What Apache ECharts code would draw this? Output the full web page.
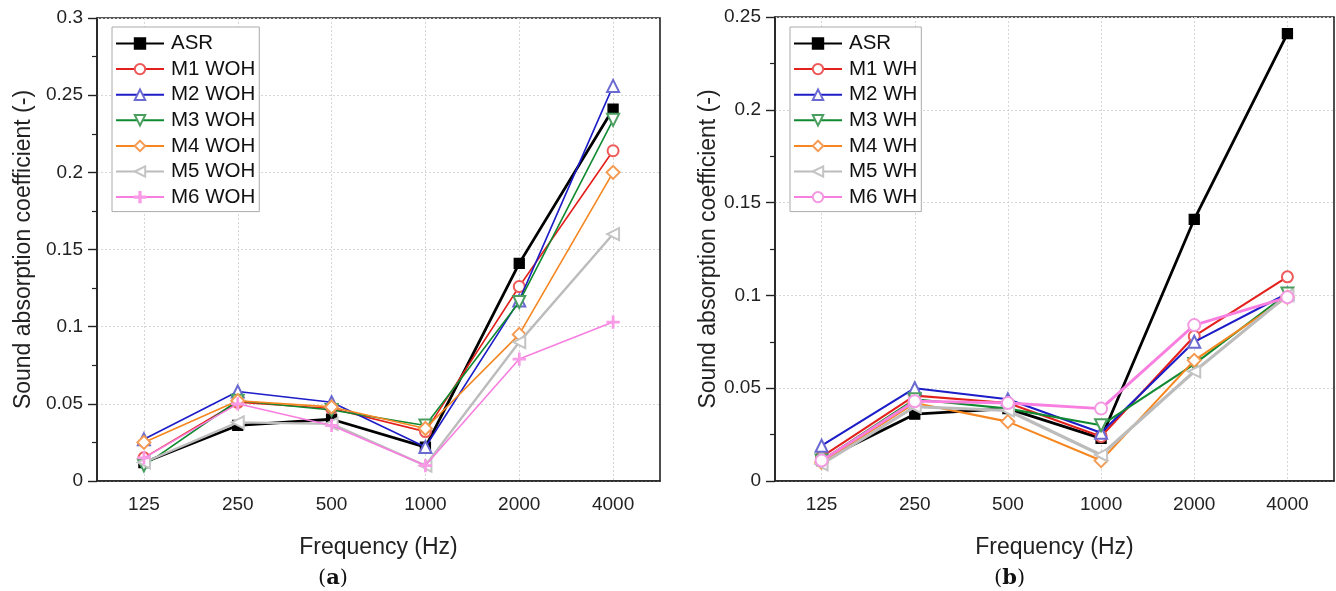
<!DOCTYPE html>
<html>
<head>
<meta charset="utf-8">
<script src="https://cdn.jsdelivr.net/npm/echarts@6/dist/echarts.min.js"></script>
<style>html,body{margin:0;padding:0;background:#fff}#c{width:1336px;height:591px}</style>
</head>
<body>
<div id="c"></div>
<script>
var categories = ['125', '250', '500', '1000', '2000', '4000'];

// (a) without hemp
var asrA = [0.012, 0.036, 0.040, 0.022, 0.141, 0.241];
var m1A  = [0.015, 0.051, 0.047, 0.032, 0.126, 0.214];
var m2A  = [0.027, 0.058, 0.051, 0.022, 0.117, 0.256];
var m3A  = [0.010, 0.052, 0.046, 0.036, 0.116, 0.234];
var m4A  = [0.025, 0.052, 0.048, 0.034, 0.095, 0.200];
var m5A  = [0.012, 0.038, 0.037, 0.010, 0.090, 0.160];
var m6A  = [0.015, 0.050, 0.036, 0.010, 0.079, 0.103];

// (b) with hemp
var asrB = [0.011, 0.036, 0.039, 0.023, 0.141, 0.241];
var m1B  = [0.013, 0.046, 0.042, 0.024, 0.078, 0.110];
var m2B  = [0.019, 0.050, 0.044, 0.026, 0.075, 0.101];
var m3B  = [0.011, 0.044, 0.039, 0.030, 0.063, 0.101];
var m4B  = [0.010, 0.042, 0.032, 0.011, 0.065, 0.099];
var m5B  = [0.009, 0.040, 0.038, 0.014, 0.059, 0.100];
var m6B  = [0.011, 0.043, 0.042, 0.039, 0.084, 0.099];

var namesA = ['ASR', 'M1 WOH', 'M2 WOH', 'M3 WOH', 'M4 WOH', 'M5 WOH', 'M6 WOH'];
var namesB = ['ASR', 'M1 WH', 'M2 WH', 'M3 WH', 'M4 WH', 'M5 WH', 'M6 WH'];
var yTicksA = [0, 0.3, 0.05];
var yTicksB = [0, 0.25, 0.05];

var FONT = 'Liberation Sans, Arial, sans-serif';
var PLUS = 'path://M4.4,0 H5.6 V4.4 H10 V5.6 H5.6 V10 H4.4 V5.6 H0 V4.4 H4.4 Z';

var styles = [
  {line: '#000000', mark: '#000000', symbol: 'rect', rot: 0, size: 10, w: 2.8},
  {line: '#e4201c', mark: '#ee5a5a', symbol: 'emptyCircle', rot: 0, size: 11, w: 1.6},
  {line: '#1c1cc8', mark: '#6a6ad2', symbol: 'emptyTriangle', rot: 0, size: 12, w: 1.6},
  {line: '#108a30', mark: '#4a9e60', symbol: 'emptyTriangle', rot: 180, size: 12, w: 1.6},
  {line: '#f6861f', mark: '#f59a52', symbol: 'emptyDiamond', rot: 0, size: 13, w: 1.6},
  {line: '#bcbcbc', mark: '#c4c4c4', symbol: 'emptyTriangle', rot: 90, size: 12, w: 2.4},
  {line: '#f87ee0', mark: '#f89ae6', symbol: PLUS, rot: 0, size: 12, w: 1.6}
];
var stylesB = styles.slice();
stylesB[6] = {line: '#f87ee0', mark: '#f39ae2', symbol: 'emptyCircle', rot: 0, size: 12, w: 2.2};

function mkSeries(names, datas, st, idx, widthScale) {
  return names.map(function (n, i) {
    var s = st[i];
    var w = i === 0 ? s.w : s.w * widthScale;
    return {
      name: n, type: 'line', xAxisIndex: idx, yAxisIndex: idx,
      data: datas[i], symbol: s.symbol, symbolSize: s.size, symbolRotate: s.rot,
      showAllSymbol: true,
      lineStyle: {color: s.line, width: w},
      itemStyle: {color: s.mark, borderColor: s.mark, borderWidth: 1.3},
      emphasis: {disabled: true},
      animation: false, z: 3 + i
    };
  });
}

function xAxis(idx) {
  return {
    type: 'category', gridIndex: idx, data: categories, boundaryGap: true,
    name: 'Frequency (Hz)', nameLocation: 'middle', nameGap: 55,
    nameTextStyle: {fontFamily: FONT, fontSize: 23, color: '#222'},
    axisLine: {lineStyle: {color: '#222', width: 1.6}},
    axisTick: {alignWithLabel: true, length: 9, lineStyle: {color: '#222', width: 1.4}},
    axisLabel: {fontFamily: FONT, fontSize: 19, color: '#222', margin: 14},
    splitLine: {show: true, alignWithLabel: true, lineStyle: {color: '#d6d6d6', type: [2, 2], width: 1}}
  };
}
function yAxis(idx, t) {
  return {
    type: 'value', gridIndex: idx, min: t[0], max: t[1], interval: t[2],
    name: 'Sound absorption coefficient (-)', nameLocation: 'middle', nameGap: idx === 0 ? 62 : 55,
    nameTextStyle: {fontFamily: FONT, fontSize: 23, color: '#222'},
    axisLine: {show: true, lineStyle: {color: '#222', width: 1.6}},
    axisTick: {show: true, length: 9, lineStyle: {color: '#222', width: 1.4}},
    minorTick: {show: true, splitNumber: 2, length: 5, lineStyle: {color: '#222', width: 1.2}},
    axisLabel: {fontFamily: FONT, fontSize: 19, color: '#222', margin: 14},
    splitLine: {show: true, lineStyle: {color: '#d6d6d6', type: [2, 2], width: 1}}
  };
}
function legend(names, left, top) {
  return {
    data: names.map(function (n) { return {name: n}; }),
    orient: 'vertical', left: left, top: top, selectedMode: false,
    itemWidth: 48, itemHeight: 13, itemGap: 4.6,
    padding: [6, 4, 4, 3],
    borderColor: '#aaaaaa', borderWidth: 1, backgroundColor: '#fff',
    textStyle: {fontFamily: FONT, fontSize: 20.5, lineHeight: 20, color: '#111', padding: [0, 0, 0, 2]}
  };
}

var chart = echarts.init(document.getElementById('c'), null, {renderer: 'canvas'});
chart.setOption({
  animation: false,
  backgroundColor: '#fff',
  grid: [
    {left: 97, top: 18, width: 563, height: 463, show: true, borderColor: '#222', borderWidth: 1.6},
    {left: 775, top: 17, width: 559, height: 464, show: true, borderColor: '#222', borderWidth: 1.6}
  ],
  xAxis: [xAxis(0), xAxis(1)],
  yAxis: [yAxis(0, yTicksA), yAxis(1, yTicksB)],
  legend: [legend(namesA, 112, 27), legend(namesB, 790, 27)],
  graphic: [
    {type: 'text', left: 318, top: 568, style: {text: '({b|a})', rich: {b: {fontWeight: 'bold', fontFamily: 'DejaVu Serif', fontSize: 21, fill: '#111'}}, font: '21px DejaVu Serif', fill: '#111'}},
    {type: 'text', left: 994, top: 568, style: {text: '({b|b})', rich: {b: {fontWeight: 'bold', fontFamily: 'DejaVu Serif', fontSize: 21, fill: '#111'}}, font: '21px DejaVu Serif', fill: '#111'}}
  ],
  series: mkSeries(namesA, [asrA, m1A, m2A, m3A, m4A, m5A, m6A], styles, 0, 1)
    .concat(mkSeries(namesB, [asrB, m1B, m2B, m3B, m4B, m5B, m6B], stylesB, 1, 1.3))
});
</script>
</body>
</html>
